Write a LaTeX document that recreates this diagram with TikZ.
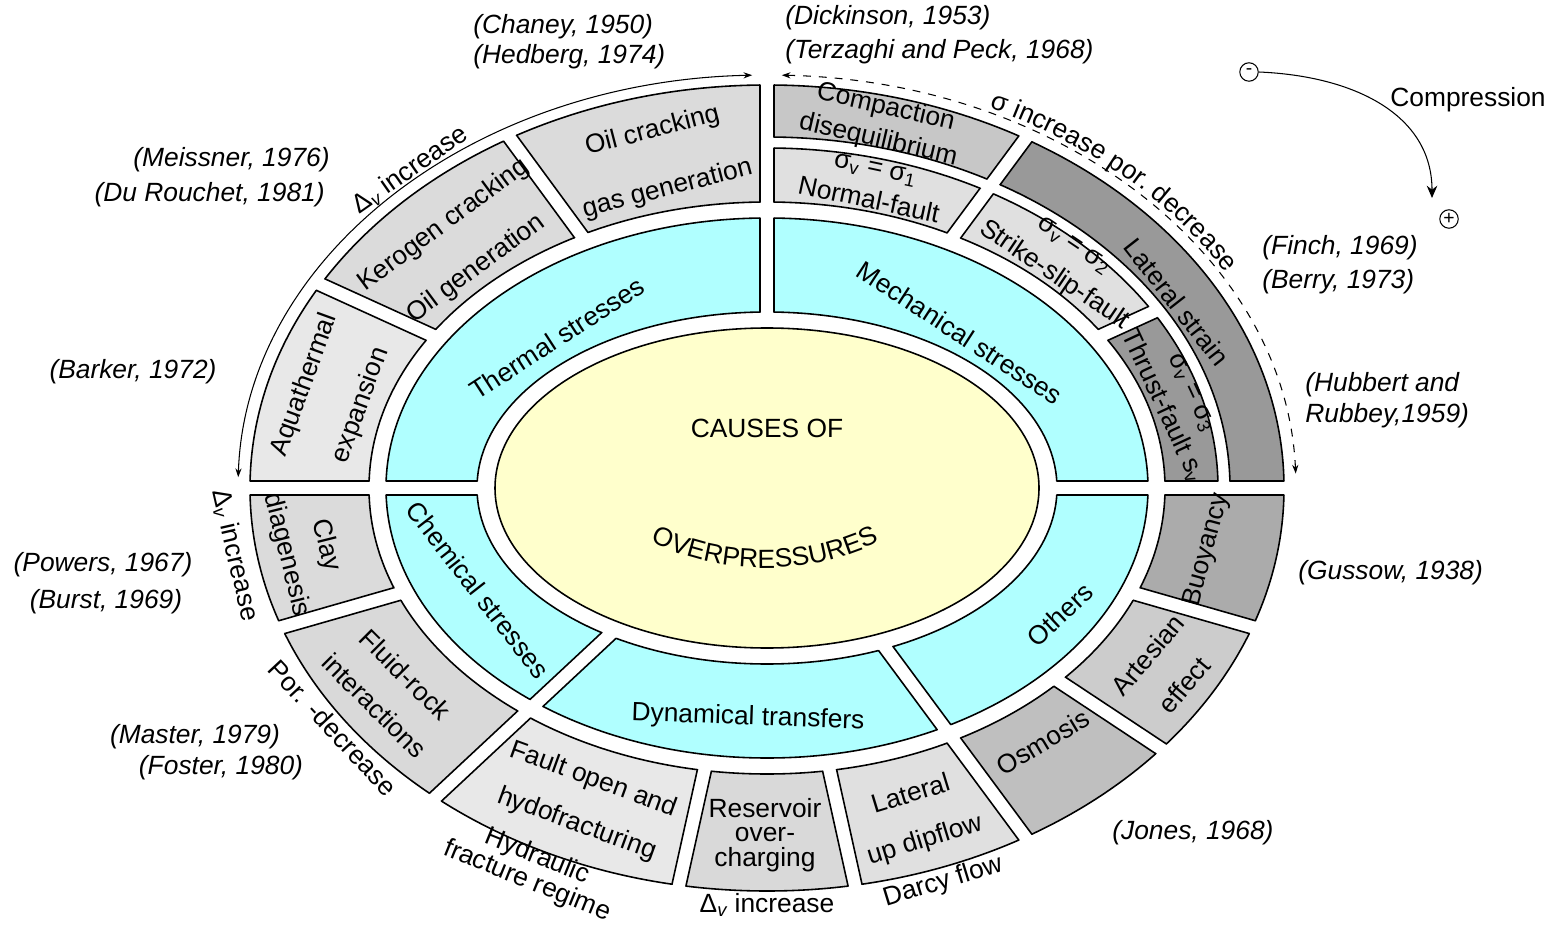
\documentclass[tikz,border=0pt]{standalone}
\usepackage{fontspec}
\setmainfont{Liberation Sans}
\usetikzlibrary{arrows.meta,decorations.text}
\definecolor{ringcyan}{RGB}{176,255,255}
\definecolor{coreyellow}{RGB}{255,255,204}
\tikzset{
  ring/.style={line width=0.9pt},
  lbl/.style={align=center, inner sep=0pt},
  cite/.style={lbl, font=\itshape},
  lsep/.style={font=\fontsize{15}{#1}\selectfont},
  sign/.style={draw, circle, line width=0.6pt, inner sep=0pt, minimum size=10.5pt, font=\fontsize{11}{11}\selectfont},
  thinarc/.style={line width=0.6pt, {Stealth[length=5pt,width=3.5pt]}-{Stealth[length=5pt,width=3.5pt]}}
}
\begin{document}
\fontsize{15}{18}\selectfont
\begin{tikzpicture}[x=0.02cm, y=0.02cm]
  \useasboundingbox (0,0) rectangle (1557,-925);

  \begin{scope}[shift={(767,-488)}]
  \foreach \ai/\bi/\ao/\bo/\sa/\ea/\col in {
     398/286/517/403/155.5/180/black!9,
     398/286/517/403/126.3/155.5/black!14,
     398/286/517/403/90/126.3/black!14,
     463/351/517/403/53.5/90/black!22,
     463/351/517/403/0/53.5/black!40,
     398/286/451/340/53.5/90/black!12,
     398/286/451/340/24.5/53.5/black!12,
     398/286/451/340/0/24.5/black!40,
     398/286/517/403/-16/0/black!33,
     398/286/517/403/-33.5/-16/black!20,
     398/286/517/403/-53.5/-33.5/black!25,
     398/286/517/403/-77.5/-53.5/black!12,
     398/286/517/403/-102.5/-77.5/black!15,
     398/286/517/403/-137/-102.5/black!9,
     398/286/517/403/-164/-137/black!15,
     398/286/517/403/180/196/black!14,
     290/176/381/270/90/180/ringcyan,
     290/176/381/270/0/90/ringcyan,
     290/176/381/270/180/223/ringcyan,
     290/176/381/270/223/306.5/ringcyan,
     290/176/381/270/306.5/360/ringcyan}{
    \pgfmathsetmacro\mida{(\sa+\ea)/2}
    \pgfmathsetmacro\aoo{\ao+0.5}
    \pgfmathsetmacro\boo{\bo+0.5}
    \pgfmathsetmacro\aii{\ai-0.5}
    \pgfmathsetmacro\bii{\bi-0.5}
    \begin{scope}
      \clip ({-7*sin(\sa)},{7*cos(\sa)}) -- ({-7*sin(\sa)+900*cos(\sa)},{7*cos(\sa)+900*sin(\sa)})
        -- (\mida:1300) -- ({7*sin(\ea)+900*cos(\ea)},{-7*cos(\ea)+900*sin(\ea)})
        -- ({7*sin(\ea)},{-7*cos(\ea)}) -- cycle;
      \filldraw[ring, fill=\col] (\ao,0) arc[start angle=0, end angle=360, x radius=\ao, y radius=\bo] -- cycle
        (\ai,0) arc[start angle=360, end angle=0, x radius=\ai, y radius=\bi] -- cycle;
    \end{scope}
    \begin{scope}
      \clip (\aoo,0) arc[start angle=0, end angle=360, x radius=\aoo, y radius=\boo] -- cycle
        (\aii,0) arc[start angle=360, end angle=0, x radius=\aii, y radius=\bii] -- cycle;
      \draw[ring] ({-7*sin(\sa)},{7*cos(\sa)}) -- ({-7*sin(\sa)+900*cos(\sa)},{7*cos(\sa)+900*sin(\sa)});
      \draw[ring] ({7*sin(\ea)},{-7*cos(\ea)}) -- ({7*sin(\ea)+900*cos(\ea)},{-7*cos(\ea)+900*sin(\ea)});
    \end{scope}
  }
  \filldraw[ring, fill=coreyellow] (0,0) ellipse[x radius=272, y radius=160];

  \draw[thinarc] (178.5:529 and 413) arc[start angle=178.5, end angle=91.6, x radius=529, y radius=413];
  \draw[thinarc, dash pattern=on 4.5pt off 4.5pt] (88.4:529 and 413) arc[start angle=88.4, end angle=2, x radius=529, y radius=413];
  \path[decorate, decoration={text along path, text={σ increase por. decrease}, text align=center}]
    (68:535 and 418) arc[start angle=68, end angle=28, x radius=535, y radius=418];
  \end{scope}

  % centre
  \node[lbl] (causes) at (767,-428) {CAUSES OF};
  \path[decorate, decoration={text along path, text={OVERPRESSURES}, text align=center}]
    (633.5,-532.8) arc[start angle=240, end angle=300, radius=263];

  % inner ring
  \node[lbl, rotate=33] (thermal) at (557,-338) {Thermal stresses};
  \node[lbl, rotate=-33] (mech) at (960,-333) {Mechanical stresses};
  \node[lbl, rotate=-52] (chem) at (478,-590) {Chemical stresses};
  \node[lbl, rotate=-2] (dyn) at (748,-718) {Dynamical transfers};
  \node[lbl, rotate=43] (others) at (1060,-615) {Others};

  % outer ring
  \node[lbl, lsep=34, rotate=70] (aqua) at (333,-395) {Aquathermal\\expansion};
  \node[lbl, lsep=31, rotate=36.5] (kerogen) at (460,-247) {Kerogen cracking\\Oil generation};
  \node[lbl, lsep=34, rotate=14.5] (oilcrack) at (660,-160) {Oil cracking\\gas generation};
  \node[lbl, lsep=19, rotate=-13] (compact) at (882,-124) {Compaction\\disequilibrium};
  \node[lbl, lsep=19, rotate=-12] (normal) at (872,-185) {σ\textsubscript{v} = σ\textsubscript{1}\\Normal-fault};
  \node[lbl, lsep=21, rotate=-34] (strike) at (1063,-262) {σ\textsubscript{v} = σ\textsubscript{2}\\Strike-slip-fault};
  \node[lbl, lsep=19, rotate=-65] (thrust) at (1176,-400) {σ\textsubscript{v} = σ\textsubscript{3}\\Thrust-fault s\textsubscript{v}};
  \node[lbl, rotate=-52] (latstrain) at (1177,-302) {Lateral strain};
  \node[lbl, rotate=75] (buoy) at (1207,-550) {Buoyancy};
  \node[lbl, lsep=27, rotate=50] (artes) at (1166,-670) {Artesian\\effect};
  \node[lbl, rotate=31] (osmo) at (1043,-742) {Osmosis};
  \node[lbl, lsep=27, rotate=17] (updip) at (918,-818) {Lateral\\up dipflow};
  \node[lbl, lsep=14] (reserv) at (765,-835) {Reservoir\\over-\\charging};
  \node[lbl, lsep=27, rotate=-20] (fault) at (585,-802) {Fault open and\\hydofracturing};
  \node[lbl, lsep=25, rotate=-45] (fluid) at (390,-690) {Fluid-rock\\interactions};
  \node[lbl, lsep=23, rotate=-76] (clay) at (306,-550) {Clay\\diagenesis};

  % along the rim
  \node[lbl, rotate=35] (dvtop) at (410,-170) {Δ\textsubscript{\itshape v} increase};
  \node[lbl, rotate=-77] (dvleft) at (235,-555) {Δ\textsubscript{\itshape v} increase};
  \node[lbl, rotate=-47] (por) at (333,-728) {Por. -decrease};
  \node[lbl, lsep=12.5, rotate=-22] (hydr) at (532,-869) {Hydraulic\\fracture regime};
  \node[lbl] (dvbottom) at (767,-905) {Δ\textsubscript{\itshape v} increase};
  \node[lbl, rotate=17] (darcy) at (943,-882) {Darcy flow};

  % references
  \node[cite, anchor=west] (chaney) at (473,-27) {(Chaney, 1950)};
  \node[cite, anchor=west] (hedberg) at (473,-57) {(Hedberg, 1974)};
  \node[cite, anchor=west] (dickinson) at (785,-18) {(Dickinson, 1953)};
  \node[cite, anchor=west] (terzaghi) at (785,-52) {(Terzaghi and Peck, 1968)};
  \node[cite, anchor=east] (meissner) at (330,-160) {(Meissner, 1976)};
  \node[cite, anchor=east] (rouchet) at (325,-195) {(Du Rouchet, 1981)};
  \node[cite] (barker) at (133,-372) {(Barker, 1972)};
  \node[cite] (powers) at (103,-565) {(Powers, 1967)};
  \node[cite] (burst) at (106,-602) {(Burst, 1969)};
  \node[cite] (master) at (195,-737) {(Master, 1979)};
  \node[cite] (foster) at (221,-768) {(Foster, 1980)};
  \node[cite, anchor=west] (finch) at (1262,-248) {(Finch, 1969)};
  \node[cite, anchor=west] (berry) at (1262,-282) {(Berry, 1973)};
  \node[cite, anchor=west, align=left, font=\itshape\fontsize{15}{18}\selectfont] (hubbert) at (1305,-400) {(Hubbert and\\Rubbey,1959)};
  \node[cite, anchor=west] (gussow) at (1298,-573) {(Gussow, 1938)};
  \node[cite, anchor=west] (jones) at (1112,-833) {(Jones, 1968)};

  % compression
  \node[sign] (minus) at (1249,-72) {-};
  \node[sign] (plus) at (1449,-219) {+};
  \node[lbl, anchor=west] (compr) at (1390,-100) {Compression};
  \coordinate (ctip) at (1432,-198);
  \draw[line width=0.6pt, -{Stealth[length=7pt,width=6pt]}] (minus.east) .. controls (1355,-76) and (1432,-115) .. (ctip);
\end{tikzpicture}
\end{document}
